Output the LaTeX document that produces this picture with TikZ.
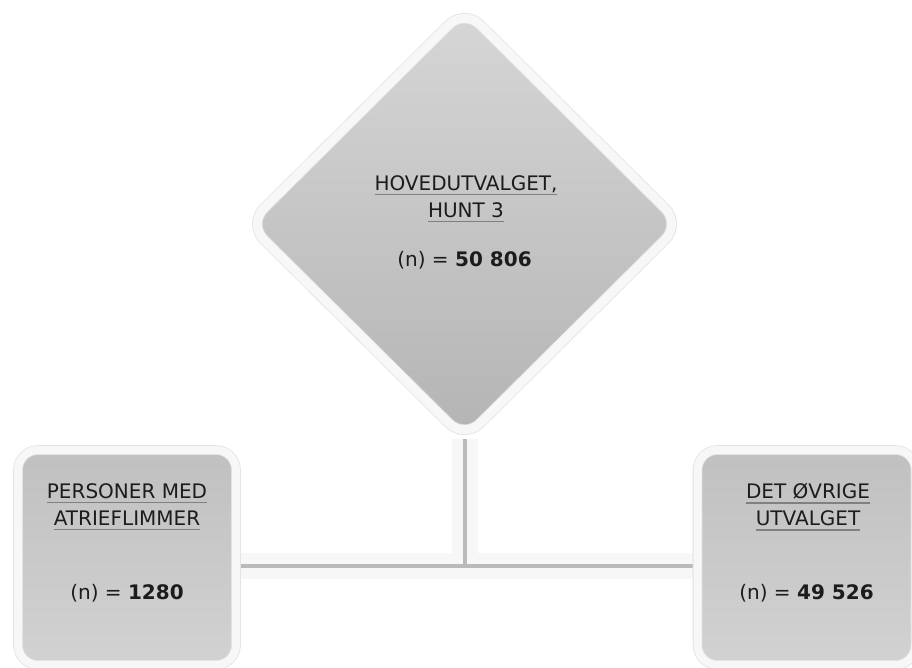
\documentclass[tikz,border=0pt]{standalone}
\usepackage{fontspec}
\setmainfont{DejaVu Sans}
\usepackage{xcolor}
\usepackage{tikz}
\usetikzlibrary{positioning,shapes.geometric,backgrounds}

\definecolor{rimline}{RGB}{226,226,226}
\definecolor{rimfill}{RGB}{247,247,247}
\definecolor{pipegray}{RGB}{186,186,186}
\definecolor{inkgray}{RGB}{28,28,28}

% gray underline under one line of a title
\newcommand{\ulined}[1]{\setbox0=\hbox{#1}\rlap{\color{gray}\rule[-5pt]{\wd0}{1.5pt}}\box0}

\begin{document}
\begin{tikzpicture}[
    x=1pt, y=-1pt,
    txt/.style={inner sep=0pt, align=center, text=inkgray, font=\fontsize{20}{27}\selectfont},
    diamondbox/.style={diamond, rounded corners=22pt, minimum width=433pt, minimum height=430pt, inner sep=0pt,
        top color={rgb,255:red,214;green,214;blue,214}, bottom color={rgb,255:red,180;green,180;blue,180},
        draw=rimline, double=rimfill, double distance=9pt, line width=0.8pt},
    sidebox/.style={rectangle, rounded corners=20pt, minimum width=218pt, minimum height=215pt, inner sep=0pt,
        top color={rgb,255:red,192;green,192;blue,192}, bottom color={rgb,255:red,210;green,210;blue,210},
        draw=rimline, double=rimfill, double distance=8pt, line width=0.8pt},
    pipeband/.style={line width=26pt, draw=rimfill},
    pipe/.style={line width=4pt, draw=pipegray}
]
\useasboundingbox (0,0) rectangle (912,668);

\node[diamondbox] (main) at (464.5,224) {};
\node[sidebox] (af) at (127,557.5) {};
\node[sidebox] (rest) at (806.5,557.5) {};

\node[txt] (maintitle) at (466,199) {\ulined{HOVEDUTVALGET,}\\\ulined{HUNT 3}};
\node[txt] (mainnum) at (464.5,260) {(n) = \textbf{50 806}};
\node[txt] (aftitle) at (127,507) {\ulined{PERSONER MED}\\\ulined{ATRIEFLIMMER}};
\node[txt] (afnum) at (127,593) {(n) = \textbf{1280}};
\node[txt] (resttitle) at (808,507) {\ulined{DET ØVRIGE}\\\ulined{UTVALGET}};
\node[txt] (restnum) at (806.5,593) {(n) = \textbf{49 526}};

\coordinate (junction) at (main.south |- 0,566);

\begin{scope}[on background layer]
\draw[pipeband] (main.south) -- (junction);
\draw[pipeband] (af.east |- junction) -- (rest.west |- junction);
\draw[pipe] (main.south) -- (junction);
\draw[pipe] (af.east |- junction) -- (rest.west |- junction);
\end{scope}
\end{tikzpicture}
\end{document}
